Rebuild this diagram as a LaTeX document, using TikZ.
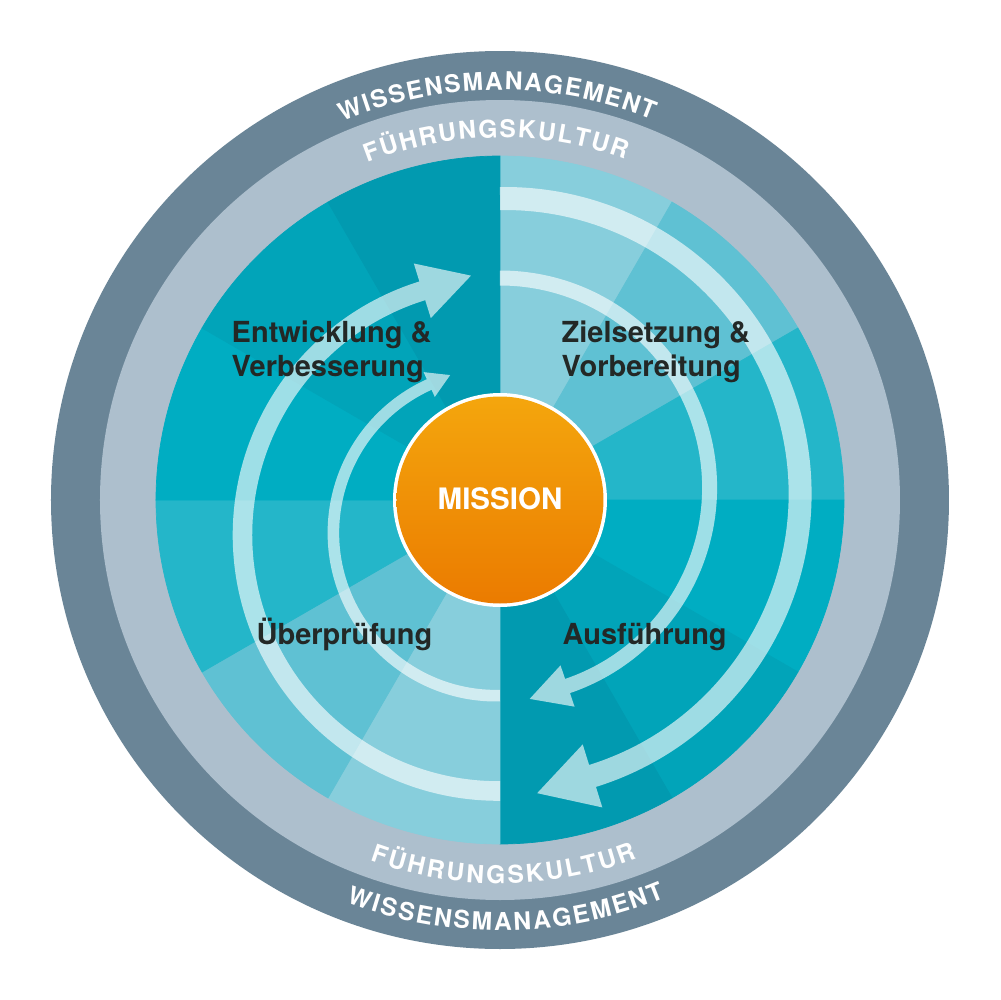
\documentclass[tikz,border=0pt]{standalone}
\usepackage{fontspec}
\setmainfont{TeX Gyre Heros}
\usetikzlibrary{calc,decorations.text}

\definecolor{ringdark}{HTML}{6A8597}
\definecolor{ringlight}{HTML}{ADBFCD}
\definecolor{secA}{HTML}{87CEDC}
\definecolor{secB}{HTML}{5FC1D3}
\definecolor{secC}{HTML}{24B6C9}
\definecolor{secD}{HTML}{00ADC2}
\definecolor{secE}{HTML}{01A4B9}
\definecolor{secF}{HTML}{019AB0}
\definecolor{orangeTop}{HTML}{F4A60D}
\definecolor{orangeBot}{HTML}{EB7B00}
\definecolor{labeltext}{HTML}{232826}

\newcommand\mylabelfont{\fontsize{8.25pt}{9.9pt}\selectfont\bfseries}
\newcommand\myringfont{\fontsize{7.0pt}{8.4pt}\selectfont\bfseries}
\newcommand\mymissionfont{\fontsize{8.4pt}{10pt}\selectfont\bfseries}

% #1 name, #2 cx, #3 cy, #4 R, #5 half width, #6 start, #7 end, #8 barb half width, #9 head length
\newcommand\spiralarrow[9]{%
  \coordinate (#1c) at (#2,#3);
  \coordinate (#1tip) at ($(#1c)+(#7:#4)+(#7-90:#9)$);
  \fill[arrowfill] ($(#1c)+(#6:#4+#5)$) arc[start angle=#6, end angle=#7, radius=#4+#5]
    -- ($(#1c)+(#7:#4+#8)$) -- (#1tip) -- ($(#1c)+(#7:#4-#8)$)
    -- ($(#1c)+(#7:#4-#5)$) arc[start angle=#7, end angle=#6, radius=#4-#5] -- cycle;}

\tikzset{
  arrowfill/.style={fill=white, fill opacity=0.62},
  lbl/.style={anchor=base west, inner sep=0pt, text=labeltext, font=\mylabelfont},
  missionlbl/.style={anchor=base, inner sep=0pt, text=white, font=\mymissionfont},
  ringtext/.style={decorate, decoration={text along path, text={|\myringfont|#1},
      text align=fit to path, text color=white}}
}

\begin{document}
\begin{tikzpicture}[x=0.1mm, y=0.1mm]
  \useasboundingbox (-500,-500) rectangle (500,500);
  \fill[white] (-500,-500) rectangle (500,500);

  % rings
  \fill[ringdark] (0,0) circle[radius=449];
  \fill[ringlight] (0,0) circle[radius=400];

  % sectors
  \foreach \a/\c in {60/secA,30/secB,0/secC,-30/secD,-60/secE,-90/secF,
                     240/secA,210/secB,180/secC,150/secD,120/secE,90/secF}
    \filldraw[\c, line width=0.2pt] (0,0) -- (\a:344) arc[start angle=\a, end angle=\a+30, radius=344] -- cycle;

  % arrows
  \spiralarrow{or}{4.7}{6.1}{295.4}{11.5}{90.9}{-72.7}{33}{58}
  \spiralarrow{ir}{0}{12.4}{209.6}{7.5}{90}{-71.2}{21.8}{40}
  \spiralarrow{ol}{-1.6}{-35.1}{255.9}{9.8}{270.4}{107.3}{28.6}{51}
  \spiralarrow{il}{-3.8}{-32.9}{162.8}{5.8}{271.3}{114.3}{13.6}{23}

  % mission
  \fill[white] (0,0) circle[radius=107];
  \shade[top color=orangeTop, bottom color=orangeBot] (0,0) circle[radius=103.5];
  \node[missionlbl] (mission) at (0,-9) {MISSION};

  % labels
  \node[lbl] (ent1) at (-269,158) {Entwicklung \&};
  \node[lbl] (ent2) at (-269,124) {Verbesserung};
  \node[lbl] (ziel1) at (61,158) {Zielsetzung \&};
  \node[lbl] (ziel2) at (61,124) {Vorbereitung};
  \node[lbl] (ueber) at (-244,-144) {Überprüfung};
  \node[lbl] (ausf) at (62,-144) {Ausführung};

  % ring texts
  \path[ringtext=WISSENSMANAGEMENT] (112.6:410) arc[start angle=112.6, end angle=68.1, radius=410];
  \path[ringtext=FÜHRUNGSKULTUR] (111.5:362.5) arc[start angle=111.5, end angle=69.8, radius=362.5];
  \path[ringtext=FÜHRUNGSKULTUR] (250.15:383.5) arc[start angle=250.15, end angle=291.0, radius=383.5];
  \path[ringtext=WISSENSMANAGEMENT] (249.1:430.5) arc[start angle=249.1, end angle=292.6, radius=430.5];
\end{tikzpicture}
\end{document}
